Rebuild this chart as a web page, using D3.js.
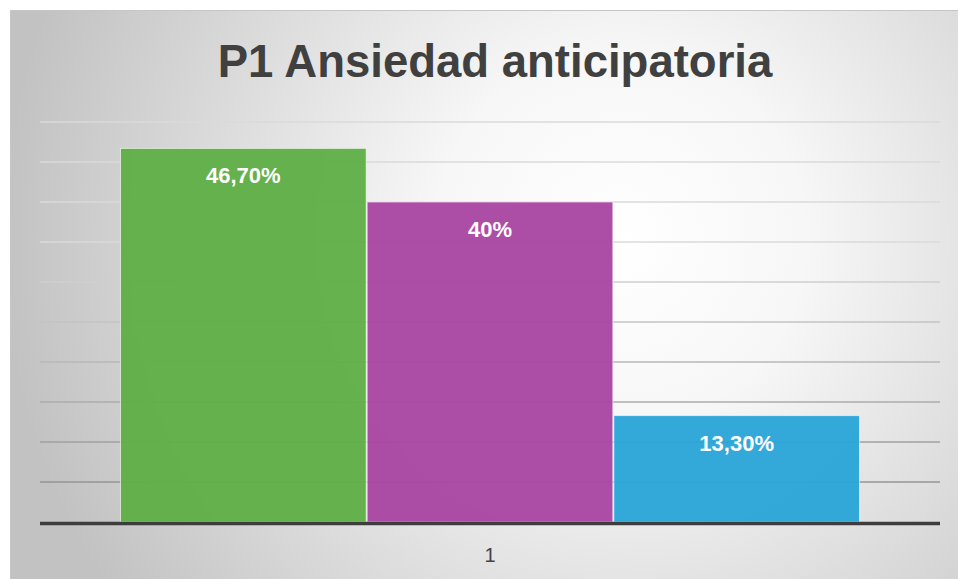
<!DOCTYPE html>
<html>
<head>
<meta charset="utf-8">
<script src="https://cdn.jsdelivr.net/npm/d3@7"></script>
<style>
  html, body { margin: 0; padding: 0; background: #fff; }
  #chart { width: 958px; height: 579px; }
  text { font-family: "Liberation Sans", Arial, sans-serif; }
</style>
</head>
<body>
<div id="chart"></div>
<script>
// Chart data
const title = 'P1 Ansiedad anticipatoria';
const categories = ['1'];
const seriesNames = ['A', 'B', 'C'];
const seriesValues = [46.7, 40, 13.3];
const valueLabels = ['46,70%', '40%', '13,30%'];
const seriesColours = ['#60af48', '#aa47a2', '#2ba6d9'];
const yMax = 50;
const yStep = 5;

const width = 958;
const height = 579;
const MARGIN = { top: 122, right: 18, bottom: 57, left: 40 };
const innerW = width - MARGIN.left - MARGIN.right;
const innerH = height - MARGIN.top - MARGIN.bottom;

const svg = d3.select('#chart')
  .append('svg')
  .attr('width', width)
  .attr('height', height);

const defs = svg.append('defs');

// radial background, bright spot near the middle bar
const bg = defs.append('radialGradient')
  .attr('id', 'bg')
  .attr('gradientUnits', 'userSpaceOnUse')
  .attr('cx', 620).attr('cy', 240).attr('r', 620);
bg.append('stop').attr('offset', '0%').attr('stop-color', '#ffffff');
bg.append('stop').attr('offset', '30%').attr('stop-color', '#f7f7f7');
bg.append('stop').attr('offset', '100%').attr('stop-color', '#c2c2c2');

// gridlines get darker towards the baseline
const gridGrad = defs.append('linearGradient')
  .attr('id', 'grid')
  .attr('gradientUnits', 'userSpaceOnUse')
  .attr('x1', 0).attr('x2', 0)
  .attr('y1', MARGIN.top).attr('y2', MARGIN.top + innerH);
gridGrad.append('stop').attr('offset', '0%').attr('stop-color', '#dadada');
gridGrad.append('stop').attr('offset', '100%').attr('stop-color', '#666666');

svg.append('rect')
  .attr('x', 10.5).attr('y', 10.5)
  .attr('width', width).attr('height', height)
  .attr('fill', 'url(#bg)')
  .attr('stroke', '#c6c6c6')
  .attr('stroke-width', 1);

// Title
svg.append('text')
  .attr('x', 495)
  .attr('y', 77)
  .attr('text-anchor', 'middle')
  .style('font-size', '45.5px')
  .style('font-weight', '700')
  .style('fill', '#404040')
  .text(title);

const g = svg.append('g')
  .attr('transform', `translate(${MARGIN.left},${MARGIN.top})`);

// Scales
const x0 = d3.scaleBand()
  .domain(categories)
  .range([0, innerW])
  .paddingOuter(80 / 740);
const x1 = d3.scaleBand()
  .domain(seriesNames)
  .range([0, x0.bandwidth()]);
const y = d3.scaleLinear().domain([0, yMax]).range([innerH, 0]);

// Gridlines (no tick labels on value axis)
const gridTicks = d3.range(yStep, yMax + yStep / 2, yStep);
g.append('g')
  .selectAll('line')
  .data(gridTicks)
  .join('line')
  .attr('x1', 0)
  .attr('x2', innerW)
  .attr('y1', d => y(d))
  .attr('y2', d => y(d))
  .attr('stroke', 'url(#grid)')
  .attr('stroke-width', 1.5);

// Bars
const bars = g.append('g')
  .attr('transform', d => `translate(${x0(categories[0])},0)`);

bars.selectAll('rect')
  .data(seriesValues)
  .join('rect')
  .attr('x', (d, i) => x1(seriesNames[i]) + 0.5)
  .attr('y', d => y(d))
  .attr('width', x1.bandwidth() - 1)
  .attr('height', d => innerH - y(d))
  .attr('fill', (d, i) => seriesColours[i])
  .attr('fill-opacity', 0.96)
  .attr('stroke', '#ffffff')
  .attr('stroke-opacity', 0.6)
  .attr('stroke-width', 1);

// Value labels inside the bars
bars.selectAll('text')
  .data(seriesValues)
  .join('text')
  .attr('x', (d, i) => x1(seriesNames[i]) + x1.bandwidth() / 2)
  .attr('y', d => y(d) + 35)
  .attr('text-anchor', 'middle')
  .style('font-size', '22px')
  .style('font-weight', '700')
  .style('fill', '#ffffff')
  .text((d, i) => valueLabels[i]);

// Category axis
g.append('line')
  .attr('x1', 0)
  .attr('x2', innerW)
  .attr('y1', innerH + 1.5)
  .attr('y2', innerH + 1.5)
  .attr('stroke', '#3d3d3d')
  .attr('stroke-width', 3.5);

g.append('g')
  .selectAll('text')
  .data(categories)
  .join('text')
  .attr('x', d => x0(d) + x0.bandwidth() / 2)
  .attr('y', innerH + 40)
  .attr('text-anchor', 'middle')
  .style('font-size', '20px')
  .style('fill', '#444444')
  .text(d => d);
</script>
</body>
</html>
